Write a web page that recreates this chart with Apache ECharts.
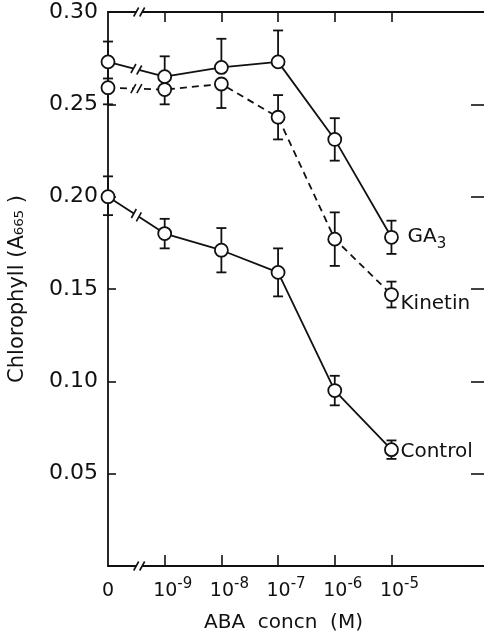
<!DOCTYPE html>
<html>
<head>
<meta charset="utf-8">
<script src="https://cdn.jsdelivr.net/npm/echarts@6/dist/echarts.min.js"></script>
<style>
  html, body { margin: 0; padding: 0; background: #fff; }
  #chart { width: 484px; height: 634px; }
</style>
</head>
<body>
<div id="chart"></div>
<script>
// ABA concentration positions (0 = no ABA, then 10^-9 .. 10^-5 M)
const xPos = [0, 1, 2, 3, 4, 5];
const tickLabels = ["0", "10^-9", "10^-8", "10^-7", "10^-6", "10^-5"];

// chlorophyll (A665)
const ga3 = [0.273, 0.265, 0.270, 0.273, 0.231, 0.178];
const ga3Up = [0.011, 0.011, 0.0155, 0.017, 0.0115, 0.009];
const ga3Down = [0.009, 0, 0, 0, 0.0115, 0.009];

const kinetin = [0.259, 0.258, 0.261, 0.243, 0.177, 0.147];
const kinetinUp = [0, 0, 0, 0.012, 0.0145, 0.007];
const kinetinDown = [0.009, 0.008, 0.013, 0.012, 0.0145, 0.007];

const control = [0.200, 0.180, 0.171, 0.159, 0.095, 0.063];
const controlUp = [0.011, 0.008, 0.012, 0.013, 0.008, 0.005];
const controlDown = [0.010, 0.008, 0.012, 0.013, 0.008, 0.005];

const ink = "#111";
const font = "DejaVu Sans";

const chart = echarts.init(document.getElementById("chart"), null, { renderer: "canvas" });

function pairs(vals) {
  return vals.map((v, i) => [xPos[i], v]);
}
function errData(vals, up, down) {
  return vals.map((v, i) => [xPos[i], v, v - down[i], v + up[i]]);
}

function renderErr(params, api) {
  const x = api.value(0);
  const c = api.coord([x, api.value(1)]);
  const lo = api.coord([x, api.value(2)]);
  const hi = api.coord([x, api.value(3)]);
  const st = { stroke: ink, lineWidth: 1.8 };
  const kids = [];
  [hi, lo].forEach(p => {
    if (Math.abs(p[1] - c[1]) > 1) {
      kids.push({ type: "line", shape: { x1: c[0], y1: c[1], x2: p[0], y2: p[1] }, style: st });
      kids.push({ type: "line", shape: { x1: p[0] - 5, y1: p[1], x2: p[0] + 5, y2: p[1] }, style: st });
    }
  });
  return { type: "group", children: kids };
}

// the "//" axis-break marks, placed midway between the first two points
function renderBreak(params, api) {
  const p0 = api.coord([api.value(0), api.value(1)]);
  const p1 = api.coord([api.value(2), api.value(3)]);
  const mx = (p0[0] + p1[0]) / 2, my = (p0[1] + p1[1]) / 2;
  const ang = Math.atan2(p1[1] - p0[1], p1[0] - p0[0]);
  const ux = Math.cos(ang), uy = Math.sin(ang);
  const st = { stroke: ink, lineWidth: 1.6 };
  const kids = [{
    type: "polygon",
    shape: { points: [
      [mx - 3 * ux - 4 * uy, my - 3 * uy + 4 * ux],
      [mx + 3 * ux - 4 * uy, my + 3 * uy + 4 * ux],
      [mx + 3 * ux + 4 * uy, my + 3 * uy - 4 * ux],
      [mx - 3 * ux + 4 * uy, my - 3 * uy - 4 * ux]
    ] },
    style: { fill: "#fff" }
  }];
  [-3, 3].forEach(d => {
    const cx = mx + d * ux, cy = my + d * uy;
    kids.push({ type: "line", shape: { x1: cx - 2.5, y1: cy + 4.5, x2: cx + 2.5, y2: cy - 4.5 }, style: st });
  });
  return { type: "group", children: kids };
}

const lineStyleBase = { color: ink, width: 1.8 };
const itemStyleBase = { color: "#fff", borderColor: ink, borderWidth: 1.8, opacity: 1 };
const labelBase = { show: true, color: ink, fontFamily: font, fontSize: 20 };

const option = {
  backgroundColor: "#fff",
  animation: false,
  grid: { left: 108, right: -1, top: 12, bottom: 68, outerBoundsMode: "none", containLabel: false },
  xAxis: [
    {
      type: "value", position: "bottom", min: 0, max: 6.65,
      axisLine: { onZero: false, lineStyle: { color: ink, width: 1.8 } },
      axisTick: { inside: true, length: 11, customValues: [1, 2, 3, 4, 5], lineStyle: { color: ink, width: 1.6 } },
      splitLine: { show: false },
      axisLabel: {
        customValues: xPos, margin: 11, color: ink, fontFamily: font,
        formatter: v => {
          const s = tickLabels[Math.round(v)];
          if (!s) return "";
          const parts = s.split("^");
          if (parts.length === 1) return "{b|" + parts[0] + "}";
          return "{p| }{b|" + parts[0] + "}{s|" + parts[1] + "}";
        },
        rich: {
          b: { fontSize: 19, lineHeight: 28, fontFamily: font, color: ink },
          s: { fontSize: 15, lineHeight: 15, verticalAlign: "top", fontFamily: font, color: ink },
          p: { width: 16, fontSize: 15, lineHeight: 15 }
        }
      },
      name: "ABA  concn  (M)", nameLocation: "middle", nameGap: 47,
      nameTextStyle: { color: ink, fontFamily: font, fontSize: 20, padding: [0, 26, 0, 0] }
    },
    {
      type: "value", position: "top", min: 0, max: 6.65,
      axisLine: { onZero: false, lineStyle: { color: ink, width: 1.8 } },
      axisTick: { inside: true, length: 10, customValues: [1, 2, 3, 4, 5], lineStyle: { color: ink, width: 1.6 } },
      axisLabel: { show: false },
      splitLine: { show: false }
    }
  ],
  yAxis: [
    {
      type: "value", position: "left", min: 0, max: 0.30, interval: 0.05,
      axisLine: { show: true, onZero: false, lineStyle: { color: ink, width: 1.8 } },
      axisTick: { show: true, inside: true, length: 8, lineStyle: { color: ink, width: 1.6 } },
      splitLine: { show: false },
      axisLabel: {
        margin: 10, color: ink, fontFamily: font, fontSize: 22,
        formatter: v => (v === 0 ? "" : v.toFixed(2))
      },
      name: "Chlorophyll (A\u2086\u2086\u2085 )", nameLocation: "middle", nameGap: 80, nameRotate: 90,
      nameTextStyle: { color: ink, fontFamily: font, fontSize: 21, overflow: "none" }
    },
    {
      type: "value", position: "right", min: 0, max: 0.30, interval: 0.05,
      axisLine: { show: true, onZero: false, lineStyle: { color: ink, width: 1.8 } },
      axisTick: { show: true, inside: true, length: 14, lineStyle: { color: ink, width: 1.6 } },
      axisLabel: { show: false },
      splitLine: { show: false }
    }
  ],
  series: [
    {
      type: "custom", name: "err", renderItem: renderErr, z: 1, clip: false,
      encode: { x: 0, y: 1 },
      data: errData(ga3, ga3Up, ga3Down)
        .concat(errData(kinetin, kinetinUp, kinetinDown))
        .concat(errData(control, controlUp, controlDown))
    },
    {
      name: "GA3", type: "line", data: pairs(ga3), z: 3,
      symbol: "circle", symbolSize: 13, showSymbol: true,
      lineStyle: lineStyleBase,
      itemStyle: itemStyleBase,
      endLabel: Object.assign({}, labelBase, {
        formatter: "GA{s|3}", distance: 16,
        rich: { s: { fontSize: 15, lineHeight: 15, verticalAlign: "bottom", fontFamily: font, color: ink } },
        lineHeight: 28
      })
    },
    {
      name: "Kinetin", type: "line", data: pairs(kinetin), z: 3,
      symbol: "circle", symbolSize: 13, showSymbol: true,
      lineStyle: Object.assign({}, lineStyleBase, { type: [7, 5] }),
      itemStyle: itemStyleBase,
      endLabel: Object.assign({}, labelBase, { formatter: "{a}", distance: 9, offset: [0, 9] })
    },
    {
      name: "Control", type: "line", data: pairs(control), z: 3,
      symbol: "circle", symbolSize: 13, showSymbol: true,
      lineStyle: lineStyleBase,
      itemStyle: itemStyleBase,
      endLabel: Object.assign({}, labelBase, { formatter: "{a}", distance: 9, offset: [0, 2] })
    },
    {
      type: "custom", name: "breaks", renderItem: renderBreak, z: 4, clip: false,
      encode: { x: 0, y: 1 },
      data: [
        [xPos[0], ga3[0], xPos[1], ga3[1]],
        [xPos[0], kinetin[0], xPos[1], kinetin[1]],
        [xPos[0], control[0], xPos[1], control[1]],
        [0, 0, 1.1, 0],
        [0, 0.30, 1.1, 0.30]
      ]
    }
  ]
};

chart.setOption(option);
</script>
</body>
</html>
